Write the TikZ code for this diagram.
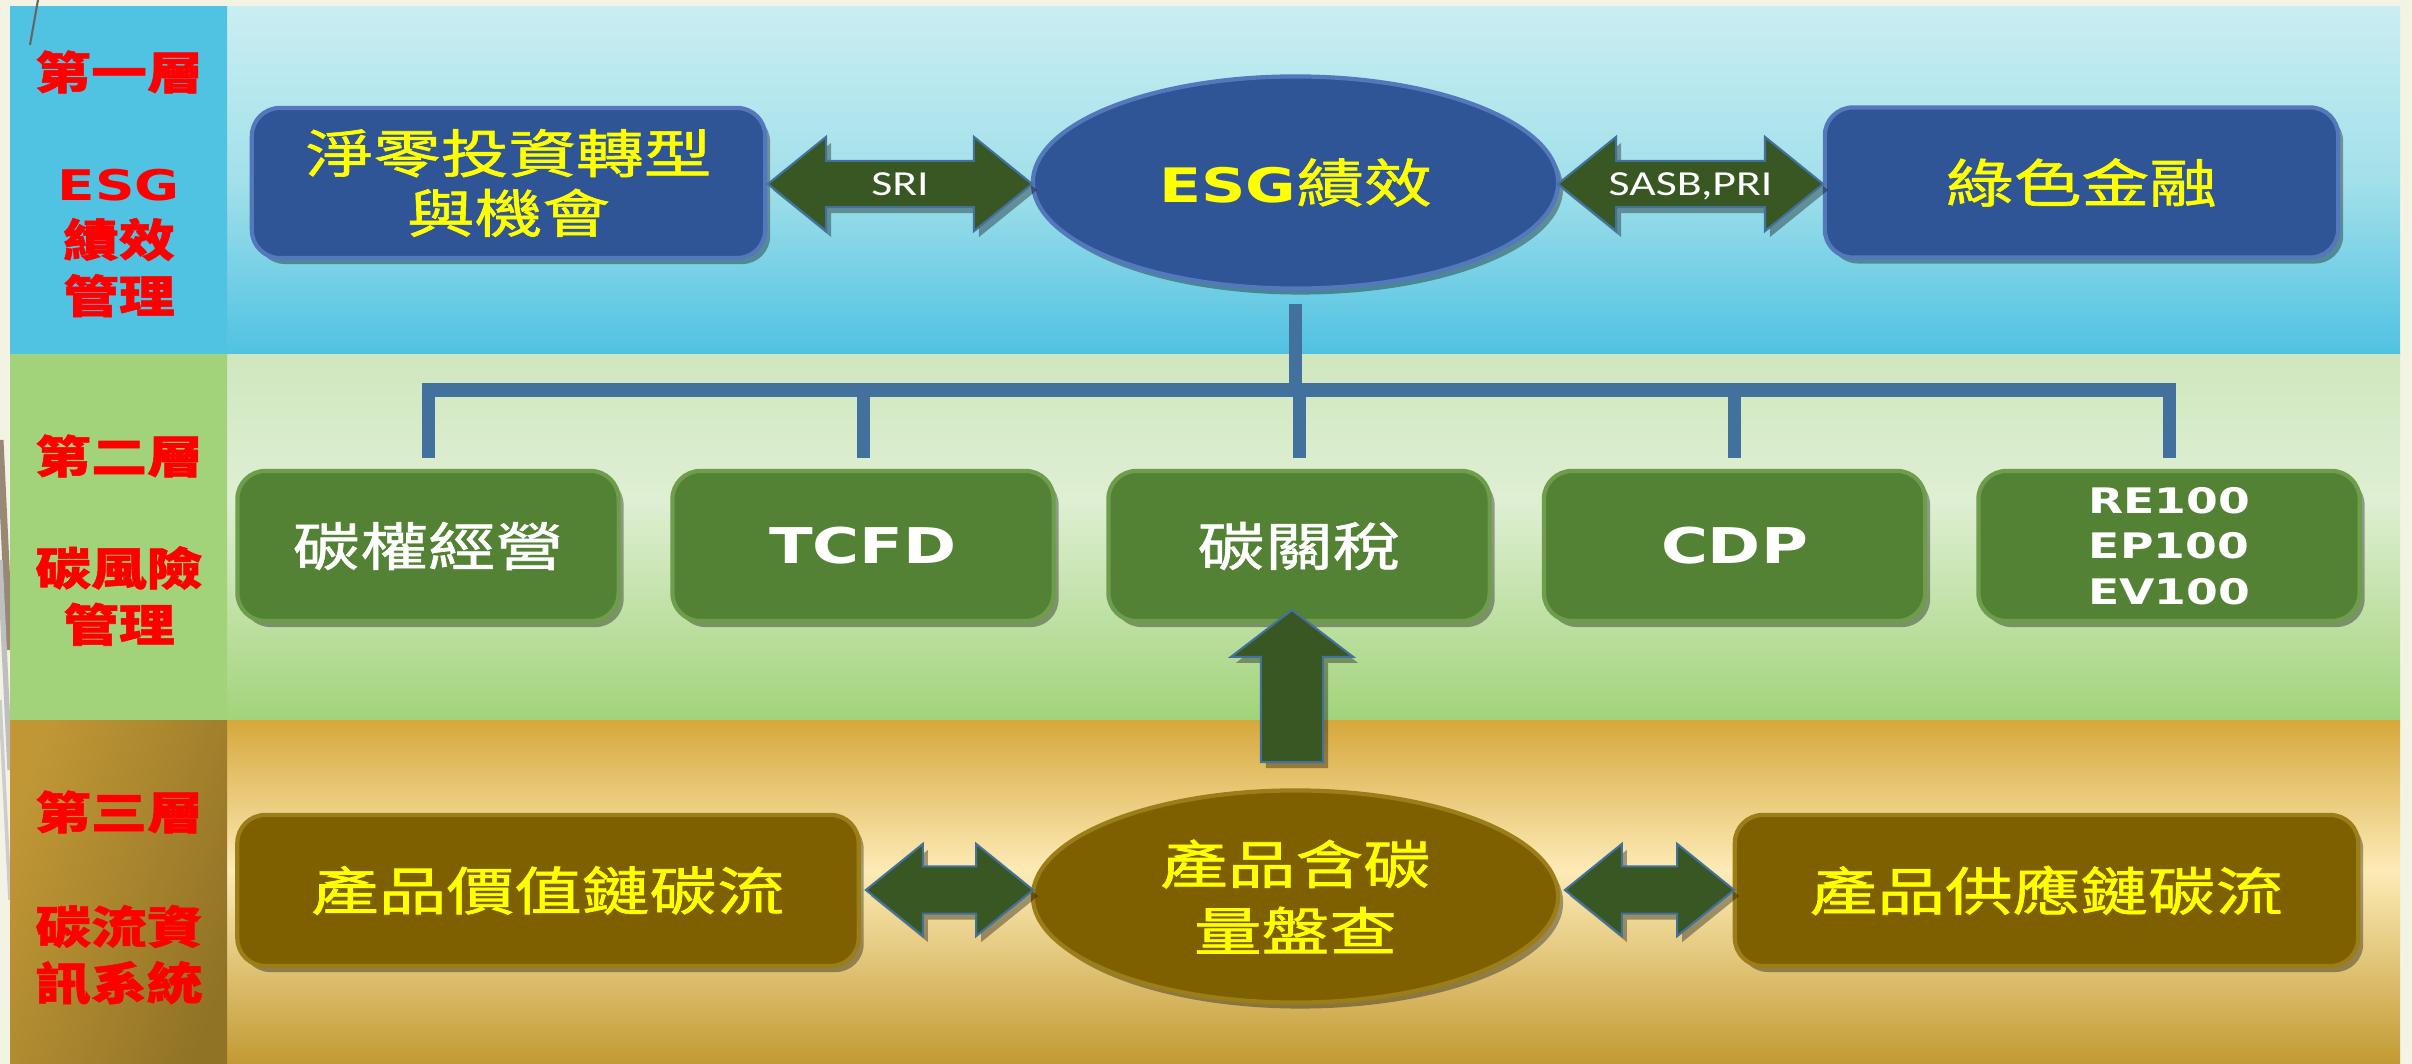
\documentclass[tikz,border=0pt]{standalone}
\usepackage{fontspec}
\usetikzlibrary{shapes.geometric,shapes.arrows,shadows,calc}
\setmainfont{DejaVu Sans}
\newfontfamily\cjk[FakeStretch=1.3, FakeBold=1.2]{Noto Sans CJK TC}
\newfontfamily\cjkh[FakeStretch=1.25, BoldFeatures={FakeBold=1.2}]{Noto Sans CJK TC}
\newfontfamily\latb[FakeStretch=1.3]{DejaVu Sans}
\newfontfamily\cali[FakeStretch=1.3]{Carlito}
\definecolor{pagebg}{HTML}{F2F3E2}
\definecolor{bluetop}{HTML}{CAEEF2}
\definecolor{bluemid}{HTML}{A2E0EA}
\definecolor{bluebot}{HTML}{50C2E2}
\definecolor{greentop}{HTML}{CFE7BF}
\definecolor{greenmid}{HTML}{DFEFD3}
\definecolor{greenbot}{HTML}{A2D37A}
\definecolor{goldtop}{HTML}{D6A83C}
\definecolor{goldmid}{HTML}{FDEBB6}
\definecolor{goldbot}{HTML}{C29A33}
\definecolor{boxblue}{HTML}{2F5597}
\definecolor{boxblueedge}{HTML}{5478BC}
\definecolor{boxgreen}{HTML}{548235}
\definecolor{boxgreenedge}{HTML}{6E9D4C}
\definecolor{boxgold}{HTML}{7F6000}
\definecolor{boxgoldedge}{HTML}{9C7E18}
\definecolor{arrowgreen}{HTML}{385723}
\definecolor{arrowedge}{HTML}{41719C}
\definecolor{connblue}{HTML}{41719C}
\definecolor{labred}{HTML}{FF0000}
\definecolor{txtyellow}{HTML}{FFFF00}
\tikzset{
  shad/.style={drop shadow={shadow xshift=0.05cm, shadow yshift=-0.06cm, opacity=0.35, fill=black}},
  cjkbig/.style={font=\cjk\fontsize{14.8}{17}\selectfont},
  bluebox/.style={rectangle, rounded corners=0.28cm, fill=boxblue, draw=boxblueedge, line width=1.2pt,
    minimum width=5.13cm, minimum height=1.5cm, inner sep=0pt, text=txtyellow, align=center, cjkbig, shad},
  greenbox/.style={rectangle, rounded corners=0.28cm, fill=boxgreen, draw=boxgreenedge, line width=1.2pt,
    minimum width=3.81cm, minimum height=1.5cm, inner sep=0pt, text=white, align=center, cjkbig, shad},
  goldbox/.style={rectangle, rounded corners=0.28cm, fill=boxgold, draw=boxgoldedge, line width=1.2pt,
    minimum width=6.21cm, minimum height=1.51cm, inner sep=0pt, text=txtyellow, align=center, cjkbig, shad},
  oval/.style={ellipse, minimum width=5.25cm, minimum height=2.12cm, inner sep=0pt, line width=1.2pt,
    align=center, text=txtyellow, cjkbig, shad},
  dbl/.style={double arrow, fill=arrowgreen, draw=arrowedge, line width=0.6pt, inner sep=0pt,
    text=white, font=\cali\fontsize{10}{12}\selectfont, shad},
  conn/.style={draw=connblue, line width=3.7pt, line cap=butt, line join=miter},
  lab/.style={text=labred, align=center, font=\cjkh\bfseries\fontsize{12.7}{16}\selectfont}
}
\begin{document}
\begin{tikzpicture}[x=0.01cm, y=-0.01cm]
\useasboundingbox (0,0) rectangle (2412,1064);
% page background
\fill[pagebg] (0,0) rectangle (2412,1064);
\draw[line width=2pt, color=black!55!brown!60] (0,440) -- (10,650);
\draw[line width=1.5pt, color=black!25] (0,560) -- (10,770);
\draw[line width=1pt, color=black!20] (0,700) -- (10,900);
% bands (each in two vertical halves)
\shade[top color=bluetop, bottom color=bluemid] (10,7) rectangle (2400,181.5);
\shade[top color=bluemid, bottom color=bluebot] (10,181) rectangle (2400,355);
\shade[top color=greentop, bottom color=greenmid] (10,355) rectangle (2400,500.5);
\shade[top color=greenmid, bottom color=greenbot] (10,500) rectangle (2400,720);
\shade[top color=goldtop, bottom color=goldmid] (10,720) rectangle (2400,870.5);
\shade[top color=goldmid, bottom color=goldbot] (10,870) rectangle (2400,1064);
% left column
\shade[left color=bluebot, middle color=bluetop!70!white, right color=bluebot, shading angle=70] (10,7) rectangle (227,355);
\shade[left color=greenbot, middle color=greentop!60!white, right color=greenbot, shading angle=70] (10,355) rectangle (227,720);
\shade[left color=goldtop!90!black, middle color=goldmid, right color=goldbot!75!black, shading angle=70] (10,720) rectangle (227,1064);
\draw[line width=0.6pt, color=black!60] (38,0) -- (30,45);

% labels
\node[lab] (l1a) at (119,72) {第一層};
\node[lab] (l1b) at (119,243) {{\latb\bfseries\fontsize{12}{16}\selectfont ESG}\\績效\\管理};
\node[lab] (l2a) at (119,456) {第二層};
\node[lab] (l2b) at (119,596) {碳風險\\管理};
\node[lab] (l3a) at (119,812) {第三層};
\node[lab] (l3b) at (119,955) {碳流資\\訊系統};

% ESG node and second-layer boxes
\node[oval, fill=boxblue, draw=boxblueedge] (esg) at (1295.5,182.5) {{\latb\bfseries\fontsize{13.5}{17}\selectfont ESG}績效};
\node[greenbox] (g1) at (428,546) {碳權經營};
\node[greenbox] (g2) at (863,546) {\latb\bfseries\fontsize{14}{17}\selectfont TCFD};
\node[greenbox] (g3) at (1299,546) {碳關稅};
\node[greenbox] (g4) at (1734.5,546) {\latb\bfseries\fontsize{14}{17}\selectfont CDP};
\node[greenbox, font=\latb\bfseries\fontsize{10}{13}\selectfont] (g5) at (2169,546) {RE100\\EP100\\EV100};
% connector tree
\coordinate (hub) at (1295.5,390);
\draw[conn] ($(esg.south)+(0,13)$) -- (esg.south |- hub);
\draw[conn] ($(g1.north)+(0,-11)$) -- (g1.north |- hub) -- (g5.north |- hub) -- ($(g5.north)+(0,-11)$);
\foreach \b in {g2,g3,g4} \draw[conn] (\b.north |- hub) -- ($(\b.north)+(0,-11)$);

% top row
\node[bluebox] (inv) at (508.5,183) {淨零投資轉型\\與機會};
\node[bluebox] (gf) at (2081.5,182.5) {綠色金融};
\node[dbl, minimum height=2.64cm, minimum width=0.92cm, double arrow head extend=0.24cm,
  double arrow tip angle=78, text height=0.33cm, text depth=0.11cm] (sri) at (900,184) {SRI};
\node[dbl, minimum height=2.65cm, minimum width=0.92cm, double arrow head extend=0.24cm,
  double arrow tip angle=78, text height=0.33cm, text depth=0.11cm] (sasb) at (1690.5,184) {SASB,PRI};

% bottom row
\node[goldbox] (vc) at (548,890.5) {產品價值鏈碳流};
\node[goldbox, minimum width=6.23cm] (sc) at (2046.5,890.5) {產品供應鏈碳流};
\node[oval, fill=boxgold, draw=boxgoldedge, font=\cjk\fontsize{14.8}{19}\selectfont] (pc) at (1295.5,896.5) {產品含碳\\量盤查};
\node[dbl, minimum height=1.67cm, minimum width=0.90cm, double arrow head extend=0.225cm,
  double arrow tip angle=78, text height=0.225cm, text depth=0.225cm] (la) at (949.5,890) {};
\node[dbl, minimum height=1.69cm, minimum width=0.90cm, double arrow head extend=0.225cm,
  double arrow tip angle=78, text height=0.225cm, text depth=0.225cm] (ra) at (1649.5,890) {};
\node[single arrow, rotate=90, fill=arrowgreen, draw=arrowedge, line width=0.6pt, inner sep=0pt,
  minimum height=1.52cm, minimum width=1.2cm, single arrow head extend=0.3cm,
  single arrow tip angle=105, text height=0.3cm, text depth=0.3cm, shad] (up) at (1292,698) {};
\end{tikzpicture}
\end{document}
